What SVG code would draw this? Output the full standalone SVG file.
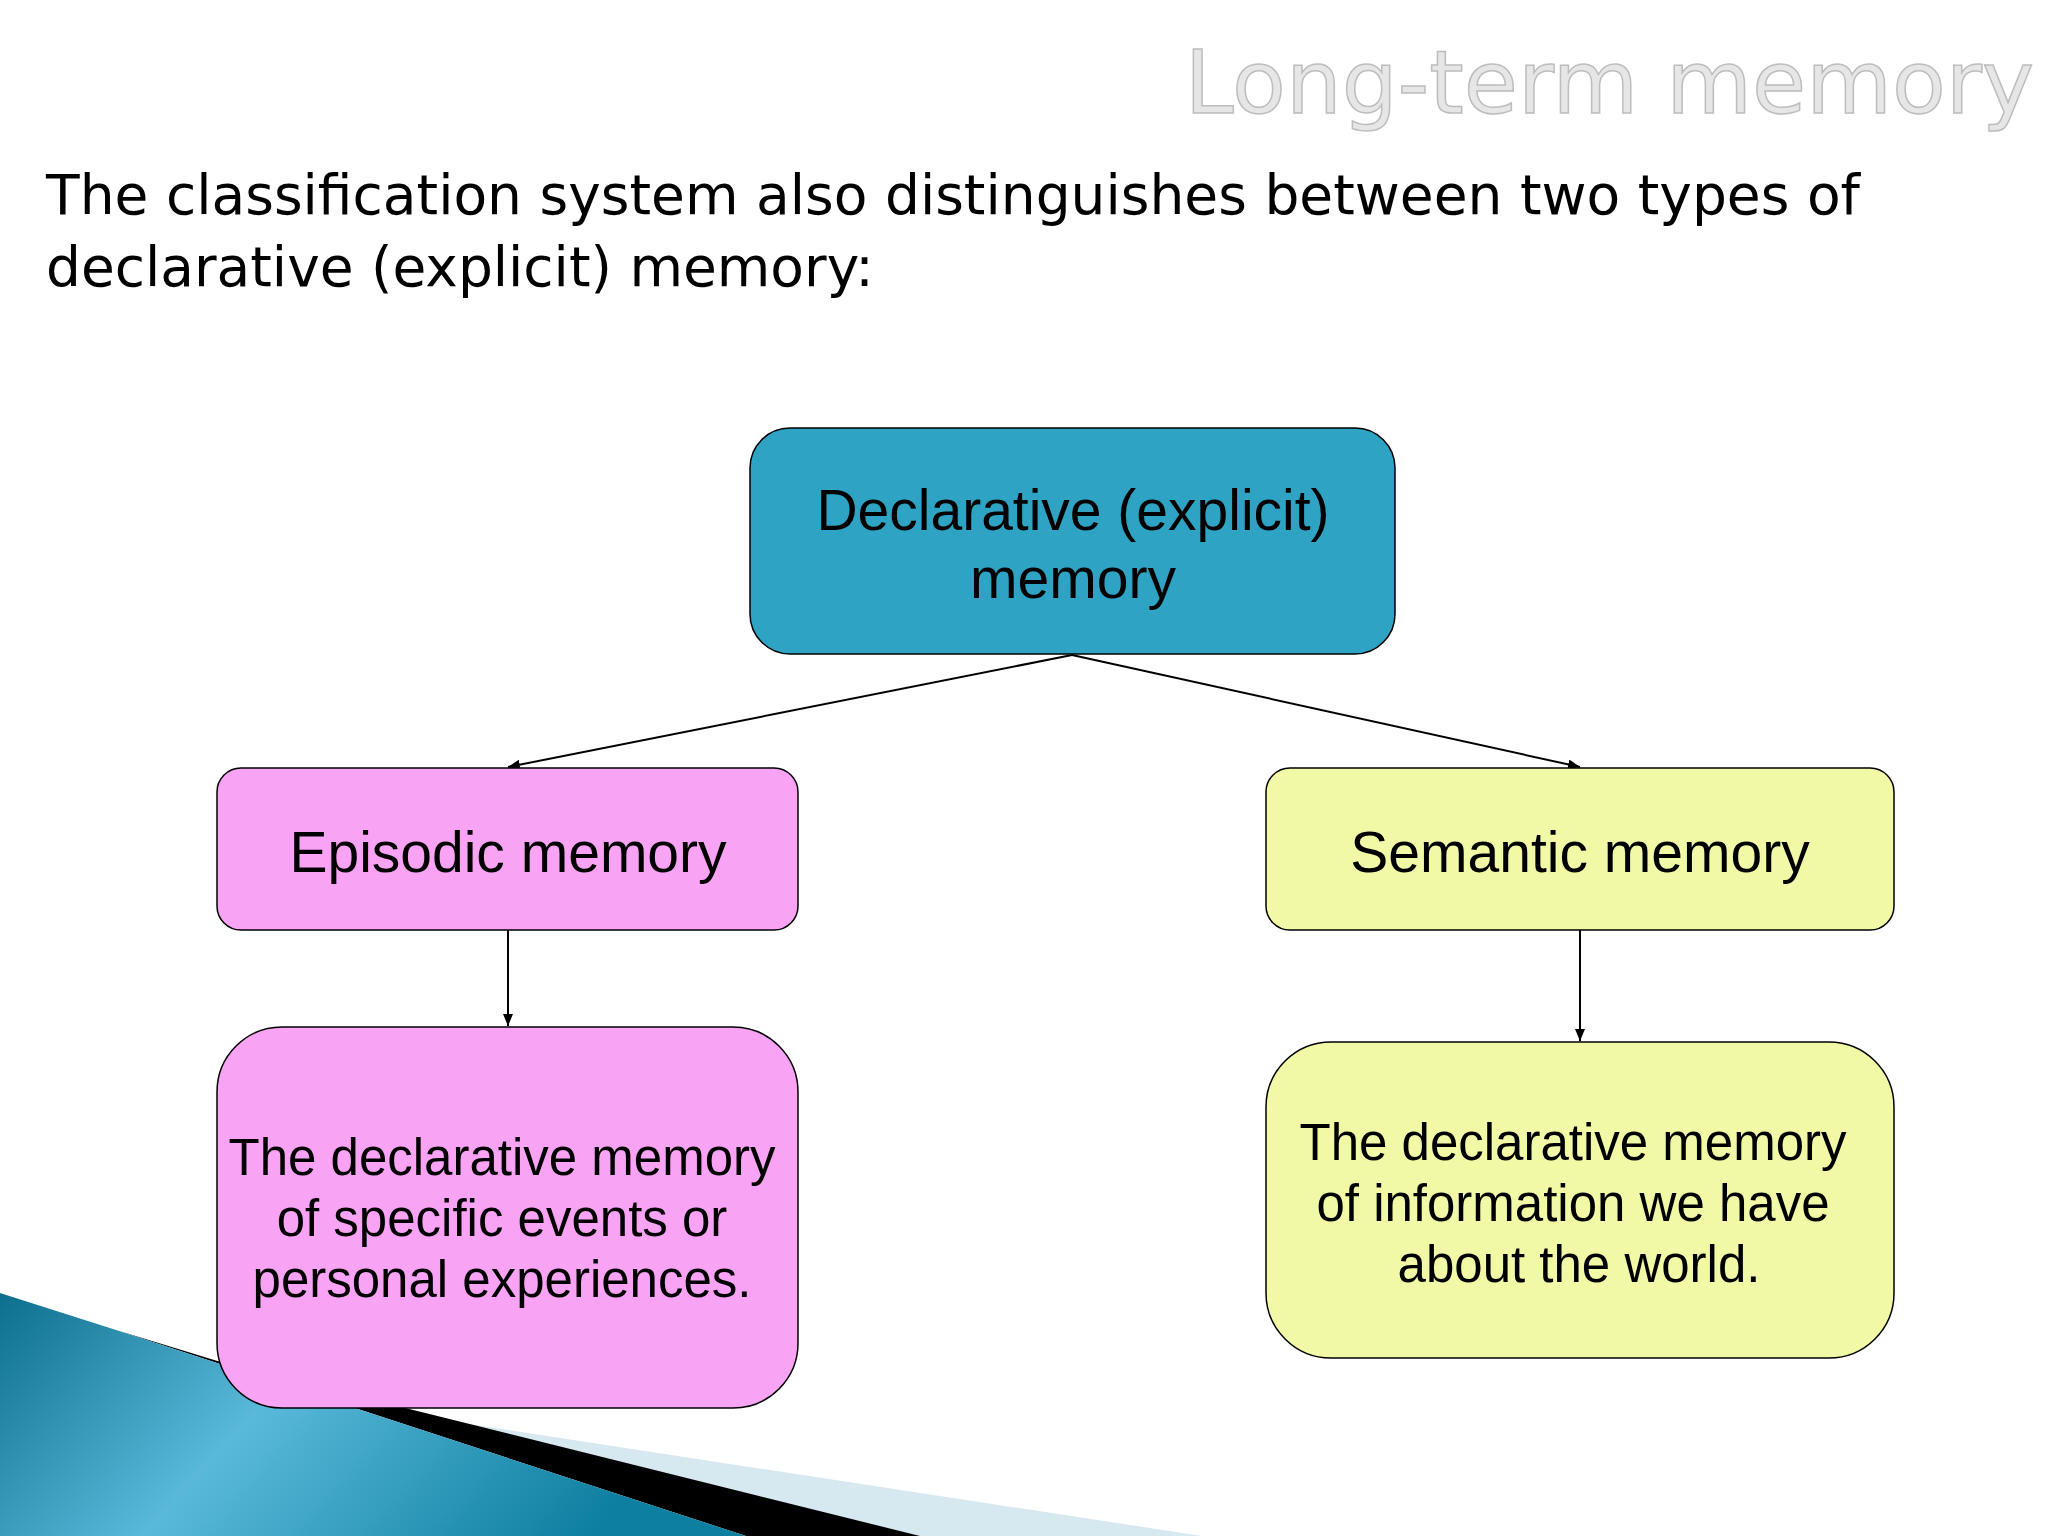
<svg xmlns="http://www.w3.org/2000/svg" width="2048" height="1536" viewBox="0 0 2048 1536">
<defs>
<linearGradient id="blue" x1="0" y1="0" x2="1" y2="0.3">
<stop offset="0" stop-color="#0c6f8c"/><stop offset="0.45" stop-color="#5ab9da"/><stop offset="1" stop-color="#0d7fa0"/>
</linearGradient>
<marker id="arr" markerWidth="12" markerHeight="10" refX="12" refY="5" orient="auto" markerUnits="userSpaceOnUse">
<path d="M0,0 L12,5 L0,10 z" fill="#000"/>
</marker>
</defs>
<style>
.t{font-family:"Liberation Sans",Arial,sans-serif;fill:#000;text-anchor:middle}
.b{stroke:#000;stroke-width:1.5}
.c{stroke:#000;stroke-width:2;fill:none;marker-end:url(#arr)}
</style>
<rect width="2048" height="1536" fill="#fff"/>
<g id="decoration">
<polygon points="357,1407 1202,1536 920,1536" fill="#d6e8f0"/>
<polygon points="116,1330 224,1363 920,1536 746,1536" fill="#000"/>
<polygon points="0,1293 116,1330 746,1536 0,1536" fill="url(#blue)"/>
</g>
<text x="2034" y="113" font-family="'DejaVu Sans',sans-serif" font-size="88" text-anchor="end" fill="#e6e6e6" stroke="#bdbdbd" stroke-width="1.5">Long-term memory</text>
<g font-family="'DejaVu Sans',sans-serif" font-size="55" fill="#000">
<text x="46" y="214" textLength="1814" lengthAdjust="spacingAndGlyphs">The classification system also distinguishes between two types of</text>
<text x="46" y="286">declarative (explicit) memory:</text>
</g>
<g id="connectors">
<line class="c" x1="1072" y1="655" x2="508" y2="767"/>
<line class="c" x1="1072" y1="655" x2="1580" y2="767"/>
<line class="c" x1="508" y1="930" x2="508" y2="1026"/>
<line class="c" x1="1580" y1="930" x2="1580" y2="1041"/>
</g>
<g id="declarative">
<rect class="b" x="750" y="428" width="645" height="226" rx="40" fill="#2fa3c4"/>
<text class="t" x="1073" y="530" font-size="57">Declarative (explicit)</text>
<text class="t" x="1073" y="598" font-size="57">memory</text>
</g>
<g id="episodic">
<rect class="b" x="217" y="768" width="581" height="162" rx="24" fill="#f9a3f5"/>
<text class="t" x="508" y="872" font-size="57">Episodic memory</text>
</g>
<g id="semantic">
<rect class="b" x="1266" y="768" width="628" height="162" rx="24" fill="#f1f9a6"/>
<text class="t" x="1580" y="872" font-size="57">Semantic memory</text>
</g>
<g id="episodic-desc">
<rect class="b" x="217" y="1027" width="581" height="381" rx="65" fill="#f9a3f5"/>
<text class="t" x="502" y="1175" font-size="51">The declarative memory</text>
<text class="t" x="502" y="1236" font-size="51">of specific events or</text>
<text class="t" x="502" y="1297" font-size="51">personal experiences.</text>
</g>
<g id="semantic-desc">
<rect class="b" x="1266" y="1042" width="628" height="316" rx="65" fill="#f1f9a6"/>
<text class="t" x="1573" y="1160" font-size="51">The declarative memory</text>
<text class="t" x="1573" y="1221" font-size="51">of information we have</text>
<text class="t" x="1579" y="1282" font-size="51">about the world.</text>
</g>
</svg>
